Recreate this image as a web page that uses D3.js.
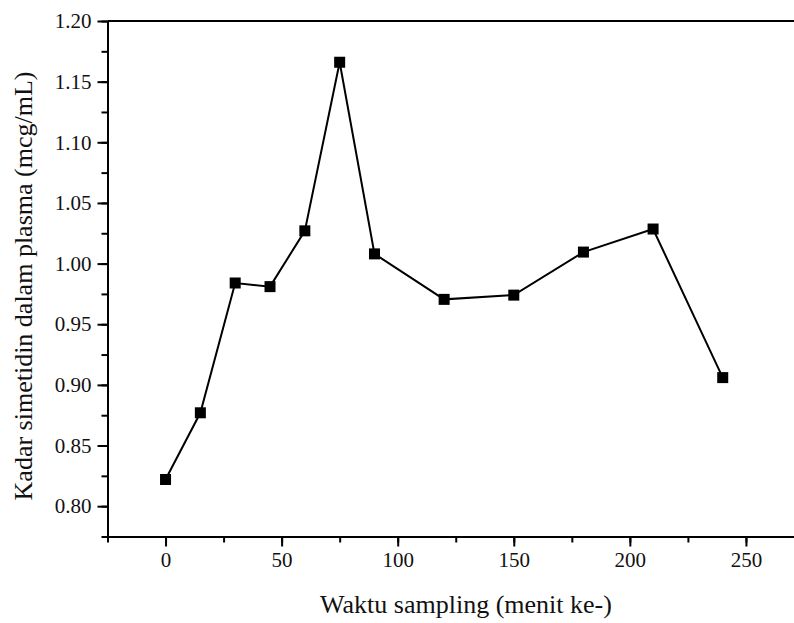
<!DOCTYPE html>
<html><head><meta charset="utf-8">
<script src="https://cdn.jsdelivr.net/npm/d3@7"></script>
<style>body{margin:0;background:#fff}svg{display:block}</style>
</head><body>
<script>
const times = [0, 15, 30, 45, 60, 75, 90, 120, 150, 180, 210, 240];
const values = [0.822, 0.877, 0.984, 0.981, 1.027, 1.166, 1.008, 0.9705, 0.974, 1.0095, 1.0285, 0.906];
const xTicks = [0, 50, 100, 150, 200, 250];
const yTicks = [0.80, 0.85, 0.90, 0.95, 1.00, 1.05, 1.10, 1.15, 1.20];
const xTitle = "Waktu sampling (menit ke-)";
const yTitle = "Kadar simetidin dalam plasma (mcg/mL)";

const FONT = "'Liberation Serif', 'Times New Roman', serif";
const W = 794, H = 623;
const L = 107.5, T = 21, R = 794, B = 536.5;
const svg = d3.select("body").append("svg").attr("width", W).attr("height", H)
  .attr("font-family", FONT);
const x = d3.scaleLinear().domain([-25, 270.7]).range([L, R]);
const y = d3.scaleLinear().domain([0.775, 1.20]).range([B, T]);

const xMinor = d3.range(-25, 275, 25);
const yMinor = d3.range(0.775, 1.2001, 0.025).map(v => +v.toFixed(3));

const gx = svg.append("g").attr("transform", `translate(0,${B})`);
gx.call(d3.axisBottom(x).tickValues(xMinor).tickSize(6).tickFormat(""));
gx.call(g => g.select(".domain").remove());
const gx2 = svg.append("g").attr("transform", `translate(0,${B})`)
  .call(d3.axisBottom(x).tickValues(xTicks).tickSize(10).tickSizeOuter(0).tickPadding(6).tickFormat(d3.format("d")));
gx2.attr("font-family", FONT);
gx2.selectAll("text").attr("font-size", 21).attr("fill", "#111").attr("font-family", FONT);
gx2.select(".domain").attr("stroke-width", 2);

const gy = svg.append("g").attr("transform", `translate(${L},0)`);
gy.call(d3.axisLeft(y).tickValues(yMinor).tickSize(6).tickFormat(""));
gy.call(g => g.select(".domain").remove());
const gy2 = svg.append("g").attr("transform", `translate(${L},0)`)
  .call(d3.axisLeft(y).tickValues(yTicks).tickSize(10).tickSizeOuter(0).tickPadding(6).tickFormat(d3.format(".2f")));
gy2.attr("font-family", FONT);
gy2.selectAll("text").attr("font-size", 21).attr("fill", "#111").attr("font-family", FONT);
gy2.select(".domain").attr("stroke-width", 2);
svg.selectAll(".tick line").attr("stroke-width", 2);

svg.append("line").attr("x1", L).attr("x2", R).attr("y1", T).attr("y2", T)
  .attr("stroke", "#000").attr("stroke-width", 2);

const data = times.map((t, i) => ({t, v: values[i]}));
svg.append("path").datum(data)
  .attr("fill", "none").attr("stroke", "#000").attr("stroke-width", 2)
  .attr("d", d3.line().x(d => x(d.t)).y(d => y(d.v)));
svg.selectAll("rect.pt").data(data).enter().append("rect")
  .attr("x", d => x(d.t) - 5.5).attr("y", d => y(d.v) - 5.5)
  .attr("width", 11).attr("height", 11).attr("fill", "#000");

svg.append("text").attr("x", 466).attr("y", 613).attr("text-anchor", "middle")
  .attr("font-size", 26).attr("fill", "#111").attr("font-family", FONT).text(xTitle);
svg.append("text").attr("transform", "translate(32,286) rotate(-90)")
  .attr("text-anchor", "middle").attr("font-size", 26).attr("fill", "#111").attr("font-family", FONT).text(yTitle);
</script>
</body></html>
